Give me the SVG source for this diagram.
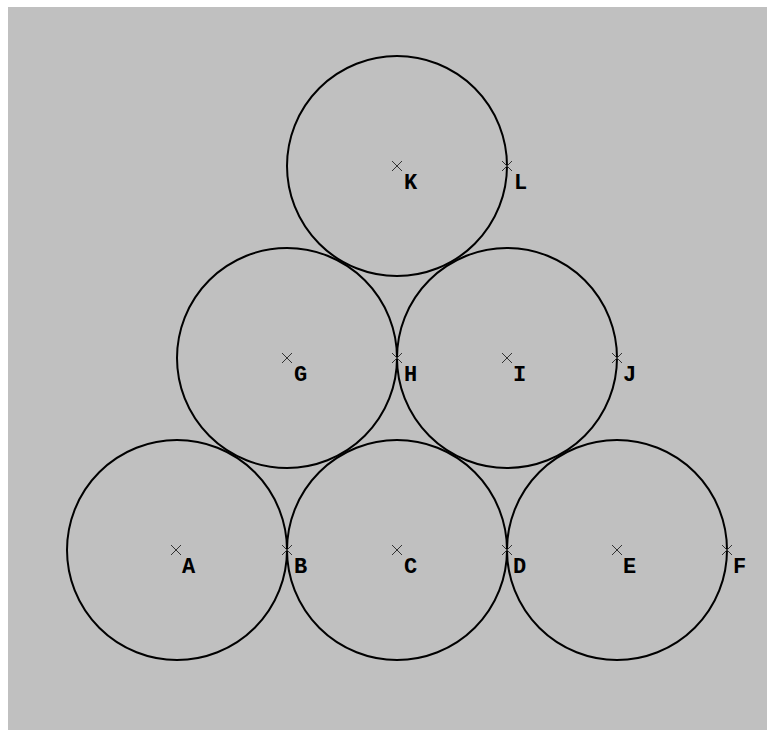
<svg xmlns="http://www.w3.org/2000/svg" width="767" height="730" viewBox="0 0 767 730">
<style>
.c{fill:none;stroke:#000;stroke-width:2}
.x{stroke:#333;stroke-width:1;fill:none}
.t{font-family:"Liberation Mono","Courier New",monospace;font-weight:bold;font-size:22px;fill:#000}
</style>
<defs>
<path id="m" class="x" d="M-5,-5L5,5M-5,5L5,-5"/>
</defs>
<rect x="0" y="0" width="767" height="730" fill="#fff"/>
<rect x="8" y="7" width="759" height="723" fill="#c0c0c0"/>
<g id="circles">
<circle id="cA" class="c" cx="177" cy="550" r="110"/>
<circle id="cC" class="c" cx="397" cy="550" r="110"/>
<circle id="cE" class="c" cx="617" cy="550" r="110"/>
<circle id="cG" class="c" cx="287" cy="358" r="110"/>
<circle id="cI" class="c" cx="507" cy="358" r="110"/>
<circle id="cK" class="c" cx="397" cy="166" r="110"/>
</g>
<g id="points">
<g id="pA"><use href="#m" x="176" y="550"/><text class="t" x="182" y="573">A</text></g>
<g id="pB"><use href="#m" x="287" y="550"/><text class="t" x="294" y="573">B</text></g>
<g id="pC"><use href="#m" x="397" y="550"/><text class="t" x="404" y="573">C</text></g>
<g id="pD"><use href="#m" x="507" y="550"/><text class="t" x="513" y="573">D</text></g>
<g id="pE"><use href="#m" x="617" y="550"/><text class="t" x="623" y="573">E</text></g>
<g id="pF"><use href="#m" x="727" y="550"/><text class="t" x="733" y="573">F</text></g>
<g id="pG"><use href="#m" x="287" y="358"/><text class="t" x="294" y="381">G</text></g>
<g id="pH"><use href="#m" x="397" y="358"/><text class="t" x="404" y="381">H</text></g>
<g id="pI"><use href="#m" x="507" y="358"/><text class="t" x="513" y="381">I</text></g>
<g id="pJ"><use href="#m" x="617" y="358"/><text class="t" x="623" y="381">J</text></g>
<g id="pK"><use href="#m" x="397" y="166"/><text class="t" x="404" y="189">K</text></g>
<g id="pL"><use href="#m" x="507" y="166"/><text class="t" x="514" y="189">L</text></g>
</g>
</svg>
